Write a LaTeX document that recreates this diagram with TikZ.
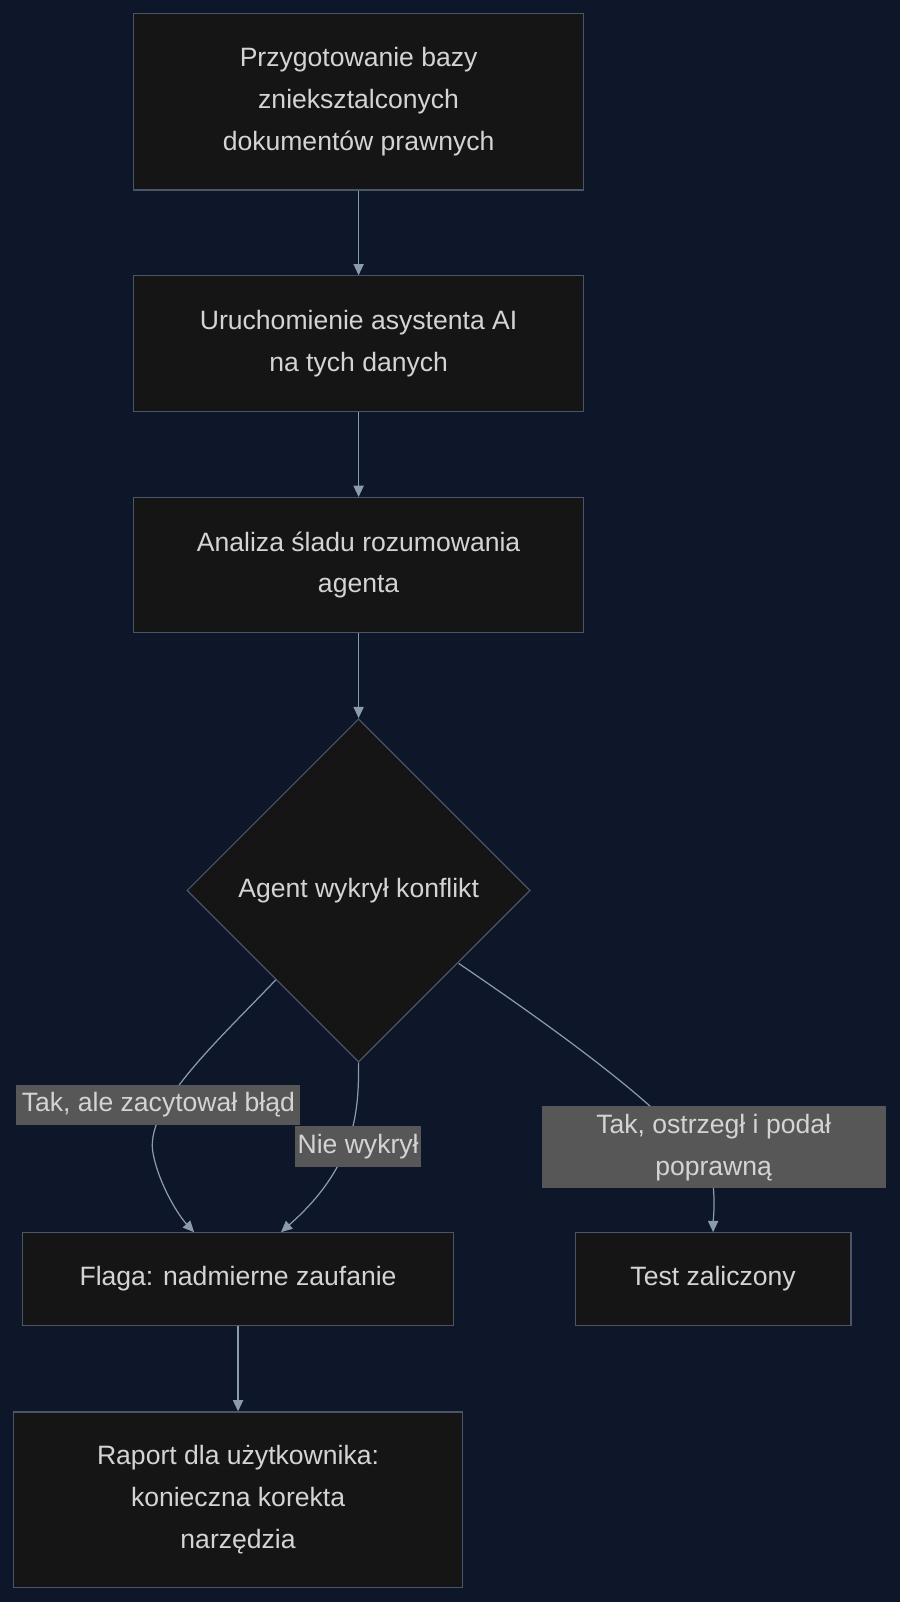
\documentclass[tikz,border=0pt]{standalone}
\usepackage{fontspec}
\setmainfont{Liberation Sans}
\usetikzlibrary{shapes.geometric,arrows.meta}
\definecolor{bg}{HTML}{0E1629}
\definecolor{nfill}{HTML}{151515}
\definecolor{nbord}{HTML}{4A5568}
\definecolor{txt}{HTML}{D4D4D4}
\definecolor{lbl}{HTML}{575757}
\definecolor{edge}{HTML}{8A9BB0}
\begin{document}
\begin{tikzpicture}[x=1pt,y=-1pt,
  box/.style={draw=nbord,fill=nfill,line width=1.2pt,text=txt,align=center,inner sep=0pt,font=\fontsize{26}{41}\selectfont},
  lab/.style={fill=lbl,text=txt,align=center,inner sep=0pt,font=\fontsize{26}{41}\selectfont},
  arr/.style={draw=edge,line width=1.2pt,-{Triangle[length=11pt,width=10pt]}}]
\fill[bg] (0,0) rectangle (881,1568);
\useasboundingbox (0,0) rectangle (881,1568);
\node[box,minimum width=440pt,minimum height=173pt] (A) at (351,99.5) {Przygotowanie bazy\\znieksztalconych\\dokumentów prawnych};
\node[box,minimum width=440pt,minimum height=133pt] (B) at (351,336.5) {Uruchomienie asystenta AI\\na tych danych};
\node[box,minimum width=440pt,minimum height=132pt] (C) at (351,553) {Analiza śladu rozumowania\\agenta};
\node[box,diamond,minimum width=336pt,minimum height=336pt] (D) at (351,871.5) {Agent wykrył konflikt};
\node[box,minimum width=422pt,minimum height=91pt] (E) at (233,1251.5) {Flaga: nadmierne zaufanie};
\node[box,minimum width=270pt,minimum height=91pt] (F) at (698,1251.5) {Test zaliczony};
\node[box,minimum width=440pt,minimum height=172pt] (G) at (233,1468) {Raport dla użytkownika:\\konieczna korekta\\narzędzia};
\draw[arr] (A) -- (B);
\draw[arr] (B) -- (C);
\draw[arr] (C) -- (D);
\draw[arr] (E) -- (G);
\coordinate (d1) at (270,959);
\coordinate (d3) at (449,943);
\coordinate (e1) at (190,1206);
\coordinate (e2) at (275,1206);
\coordinate (f1) at (698,1206);
\draw[arr] (d1) .. controls (210,1022) and (140,1085) .. (150,1130) .. controls (156,1160) and (175,1190) .. (e1);
\draw[arr] (D.south) .. controls (351,1085) and (350,1140) .. (e2);
\draw[arr] (d3) .. controls (540,1005) and (690,1110) .. (698,1160) .. controls (700,1180) and (698,1195) .. (f1);
\node[lab,minimum width=278pt,minimum height=39pt] (L1) at (155,1081.5) {Tak, ale zacytował błąd};
\node[lab,minimum width=123pt,minimum height=40pt] (L2) at (350.5,1122.5) {Nie wykrył};
\node[lab,minimum width=337pt,minimum height=80pt] (L3) at (698.5,1123) {Tak, ostrzegł i podał\\poprawną};
\end{tikzpicture}
\end{document}
